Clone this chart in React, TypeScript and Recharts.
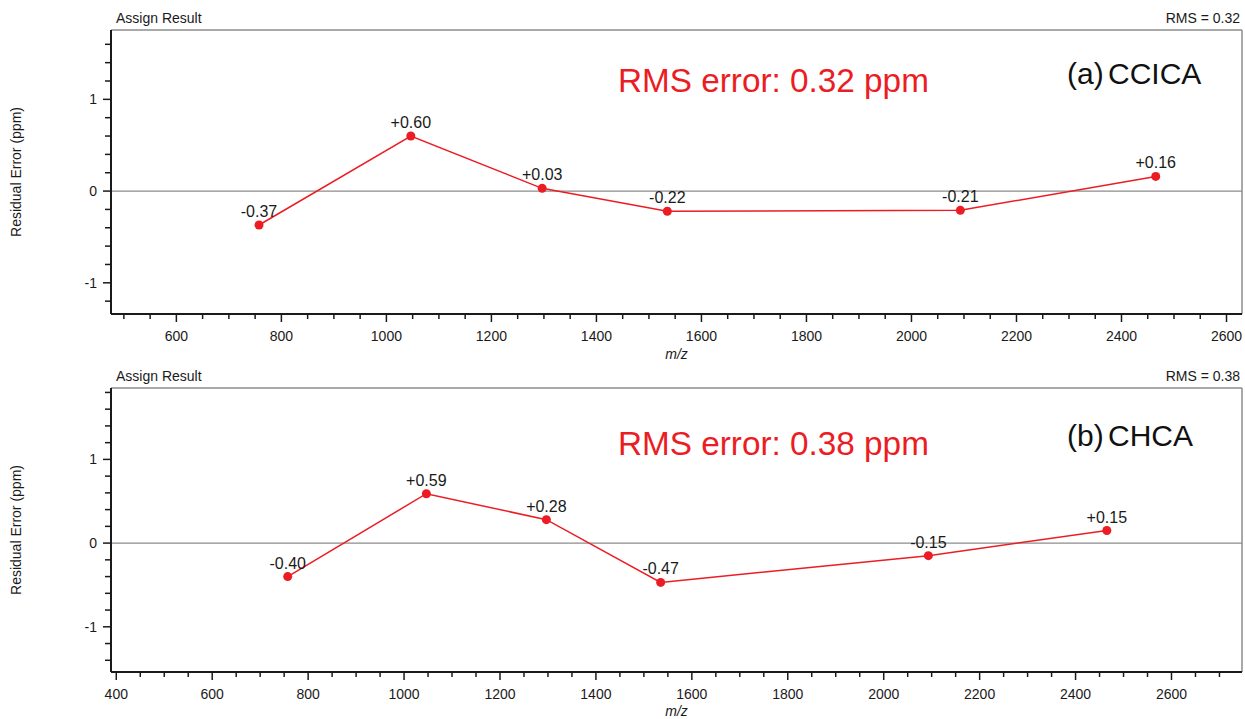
import React from 'react'
import { LineChart, Line, XAxis, YAxis, ReferenceLine, LabelList } from 'recharts'

// m/z of the calibrant peaks and residual errors (ppm)
const massA = [757.4, 1046.5, 1296.7, 1535, 2093.1, 2465.2]
const errorA = [-0.37, 0.6, 0.03, -0.22, -0.21, 0.16]
const massB = [757.4, 1046.5, 1296.7, 1535, 2093.1, 2465.2]
const errorB = [-0.4, 0.59, 0.28, -0.47, -0.15, 0.15]

const xLabelsA = [600, 800, 1000, 1200, 1400, 1600, 1800, 2000, 2200, 2400, 2600]
const xLabelsB = [400, 600, 800, 1000, 1200, 1400, 1600, 1800, 2000, 2200, 2400, 2600]
const yLabels = [-1, 0, 1]

const RED = '#ec1c24'
const FONT = '"Liberation Sans", Arial, Helvetica, sans-serif'
const W = 1245
const LEFT = 111

const steps = (from: number, to: number, step: number) => {
  const out: number[] = []
  for (let v = from; v <= to + 1e-9; v += step) out.push(Math.round(v * 100) / 100)
  return out
}

const fmt = (v: any) => {
  const n = Number(v)
  return (n > 0 ? '+' : '') + n.toFixed(2)
}

function XTick(props: any) {
  const { x, y, payload, labels } = props
  const major = labels.includes(payload.value)
  return (
    <g>
      <line x1={x} x2={x} y1={y} y2={y + (major ? 8 : 5)} stroke="#1a1a1a" strokeWidth={1.5} />
      {major && (
        <text x={x} y={y + 26.5} textAnchor="middle" fontSize={14} fill="#1a1a1a" fontFamily={FONT}>
          {payload.value}
        </text>
      )}
    </g>
  )
}

function YTick(props: any) {
  const { x, y, payload } = props
  const major = yLabels.includes(payload.value)
  return (
    <g>
      <line x1={x - (major ? 8 : 6)} x2={x} y1={y} y2={y} stroke="#1a1a1a" strokeWidth={1.5} />
      {major && (
        <text x={x - 14} y={y + 5} textAnchor="end" fontSize={14} fill="#1a1a1a" fontFamily={FONT}>
          {payload.value}
        </text>
      )}
    </g>
  )
}

type PanelProps = {
  mass: number[]
  error: number[]
  xDomain: [number, number]
  yDomain: [number, number]
  xLabels: number[]
  xTicks: number[]
  yTicks: number[]
  height: number
  marginTop: number
  axisHeight: number
  rms: string
  tag: string
  assignY: number
  noteY: number
  tagY: number
  mzY: number
}

function Panel(p: PanelProps) {
  const rows = p.mass.map((m, i) => ({ mz: m, err: p.error[i] }))
  const plotBottom = p.height - p.axisHeight
  const plotRight = W - 3
  const midY = (p.marginTop + plotBottom) / 2
  const midX = (LEFT + plotRight) / 2
  return (
    <div style={{ position: 'relative', width: W, height: p.height }}>
      <LineChart width={W} height={p.height} data={rows} margin={{ top: p.marginTop, right: 3, bottom: 0, left: 0 }}>
        <XAxis
          dataKey="mz"
          type="number"
          domain={p.xDomain}
          allowDataOverflow
          ticks={p.xTicks}
          interval={0}
          tickSize={0}
          tickMargin={0}
          height={p.axisHeight}
          axisLine={{ stroke: '#1a1a1a', strokeWidth: 2 }}
          tickLine={false}
          tick={(t: any) => <XTick {...t} labels={p.xLabels} />}
        />
        <YAxis
          type="number"
          domain={p.yDomain}
          allowDataOverflow
          ticks={p.yTicks}
          interval={0}
          width={LEFT}
          tickSize={0}
          tickMargin={0}
          axisLine={{ stroke: '#1a1a1a', strokeWidth: 2 }}
          tickLine={false}
          tick={(t: any) => <YTick {...t} />}
        />
        <ReferenceLine y={p.yDomain[1]} stroke="#8c8c8c" strokeWidth={1.5} ifOverflow="visible" />
        <ReferenceLine x={p.xDomain[1]} stroke="#8c8c8c" strokeWidth={1.5} ifOverflow="visible" />
        <ReferenceLine y={0} stroke="#8c8c8c" strokeWidth={1.2} />
        <Line
          dataKey="err"
          stroke={RED}
          strokeWidth={1.5}
          dot={{ r: 4.5, fill: RED, stroke: RED, strokeWidth: 0 }}
          activeDot={false}
          isAnimationActive={false}
        >
          <LabelList dataKey="err" position="top" offset={8} formatter={fmt} fill="#1a1a1a" fontSize={16} fontFamily={FONT} />
        </Line>
      </LineChart>
      <svg width={W} height={p.height} style={{ position: 'absolute', left: 0, top: 0, pointerEvents: 'none' }} fontFamily={FONT}>
        <text x={116} y={p.assignY} fontSize={14} fill="#1a1a1a">Assign Result</text>
        <text x={1240} y={p.assignY} fontSize={14} fill="#1a1a1a" textAnchor="end">{'RMS = ' + p.rms}</text>
        <text x={618} y={p.noteY} fontSize={33.3} fill={RED}>{'RMS error: ' + p.rms + ' ppm'}</text>
        <text x={1067} y={p.tagY} fontSize={30} wordSpacing={-4} fill="#111">{p.tag}</text>
        <text x={midX} y={p.mzY} fontSize={14} fontStyle="italic" textAnchor="middle" fill="#1a1a1a">m/z</text>
        <text transform={`translate(20.5, ${midY}) rotate(-90)`} textAnchor="middle" fontSize={14} fill="#1a1a1a">
          Residual Error (ppm)
        </text>
      </svg>
    </div>
  )
}

export default function App() {
  return (
    <div style={{ position: 'absolute', left: 0, top: 0, width: W, height: 719, background: '#fff', fontFamily: FONT }}>
      <Panel
        mass={massA}
        error={errorA}
        xDomain={[475.5, 2629.5]}
        yDomain={[-1.34, 1.756]}
        xLabels={xLabelsA}
        xTicks={steps(500, 2600, 50)}
        yTicks={steps(-1.2, 1.6, 0.2)}
        height={362}
        marginTop={30}
        axisHeight={48}
        rms="0.32"
        tag="(a) CCICA"
        assignY={22.5}
        noteY={92}
        tagY={84}
        mzY={359}
      />
      <Panel
        mass={massB}
        error={errorB}
        xDomain={[389, 2747]}
        yDomain={[-1.54, 1.853]}
        xLabels={xLabelsB}
        xTicks={steps(400, 2700, 50)}
        yTicks={steps(-1.4, 1.8, 0.2)}
        height={357}
        marginTop={26}
        axisHeight={47}
        rms="0.38"
        tag="(b) CHCA"
        assignY={18.5}
        noteY={93}
        tagY={84}
        mzY={354}
      />
    </div>
  )
}
